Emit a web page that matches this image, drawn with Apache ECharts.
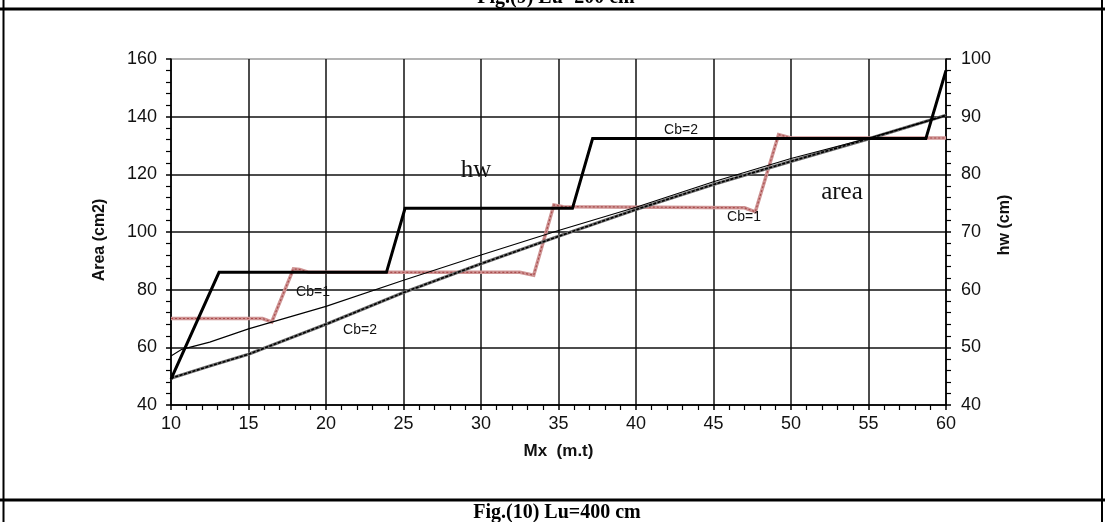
<!DOCTYPE html>
<html>
<head>
<meta charset="utf-8">
<script src="https://cdn.jsdelivr.net/npm/echarts@6/dist/echarts.min.js"></script>
<style>
html,body{margin:0;padding:0;background:#fff;}
#chart{width:1105px;height:522px;}
</style>
</head>
<body>
<div id="chart"></div>
<script>
// ---- data ----
const xTicks = [10, 15, 20, 25, 30, 35, 40, 45, 50, 55, 60];
const areaTicks = [40, 60, 80, 100, 120, 140, 160];
const hwTicks = [40, 50, 60, 70, 80, 90, 100];

// hw, Cb=2 (thick black, right axis)
const hwCb2X = [10, 13.1, 23.9, 25.1, 35.9, 37.2, 58.7, 60];
const hwCb2Y = [44.5, 63.0, 63.0, 74.1, 74.1, 86.2, 86.2, 98];

// hw, Cb=1 (red hatched, right axis)
const hwCb1X = [10, 15.9, 16.5, 17.9, 18.3, 18.9, 32.5, 33.4, 34.7, 35.3, 47.0, 47.7, 49.2, 50.0, 60];
const hwCb1Y = [55, 55, 54.4, 63.6, 63.5, 63.0, 63.0, 62.5, 74.7, 74.4, 74.2, 73.5, 86.9, 86.3, 86.3];

// area, Cb=1 (thin black, left axis)
const areaCb1X = [10, 10.7, 12.5, 15, 20, 25, 30, 35, 40, 45, 50, 55, 60];
const areaCb1Y = [57, 59.3, 61.8, 66.4, 74.2, 83.3, 92, 100.5, 108.6, 117.4, 125.5, 132.5, 140.3];

// area, Cb=2 (grey hatched, left axis)
const areaCb2X = [10, 12.5, 15, 20, 25, 30, 35, 40, 45, 50, 55, 60];
const areaCb2Y = [49.3, 53.5, 57.6, 68, 79, 89, 98.5, 107.8, 116.5, 124.5, 132.3, 140.5];

const zip = (xs, ys) => xs.map((x, i) => [x, ys[i]]);

const SANS = 'Liberation Sans, Arial, sans-serif';
const SERIF = 'Liberation Serif, Times New Roman, serif';

const chart = echarts.init(document.getElementById('chart'), null, {renderer: 'canvas'});

const baseLine = (name, data, yIdx, color, width, type, z) => ({
  name, type: 'line', data, yAxisIndex: yIdx, showSymbol: false, symbol: 'none',
  animation: false, z: z,
  lineStyle: {color, width, type: type || 'solid', cap: 'butt', join: 'miter'}
});

const splitColors = areaTicks.map((t, i) => i === areaTicks.length - 1 ? '#9a9a9a' : '#111');
const xMin = xTicks[0], xMax = xTicks[xTicks.length - 1];
const aMin = areaTicks[0], aMax = areaTicks[areaTicks.length - 1];
const hMin = hwTicks[0], hMax = hwTicks[hwTicks.length - 1];

// ticks-only helper axes (outward major ticks)
const tickOnly = (extra) => Object.assign({
  type: 'value',
  axisLine: {show: false},
  axisTick: {show: true, inside: false, length: 5, lineStyle: {color: '#000', width: 1.5}},
  minorTick: {show: false},
  axisLabel: {show: false},
  splitLine: {show: false}
}, extra);

chart.setOption({
  animation: false,
  backgroundColor: '#fff',
  grid: {left: 171, right: 159, top: 59, bottom: 117, containLabel: false},
  xAxis: [
    {
      type: 'value', min: xMin, max: xMax, interval: 5, position: 'bottom',
      axisLine: {onZero: false, lineStyle: {color: '#000', width: 1.5}},
      axisTick: {show: false},
      minorTick: {show: true, splitNumber: 5, length: 5, lineStyle: {color: '#000', width: 1.2}},
      axisLabel: {color: '#111', fontFamily: SANS, fontSize: 18, margin: 10},
      splitLine: {show: true, lineStyle: {color: '#111', width: 1.5}},
      name: 'Mx  (m.t)', nameLocation: 'middle', nameGap: 38,
      nameTextStyle: {color: '#111', fontFamily: SANS, fontSize: 17, fontWeight: 'bold'}
    },
    tickOnly({min: xMin, max: xMax, interval: 5, position: 'bottom', axisLine: {show: false, onZero: false}})
  ],
  yAxis: [
    {
      type: 'value', position: 'left', min: aMin, max: aMax, interval: 20,
      axisLine: {show: true, onZero: false, lineStyle: {color: '#000', width: 1.5}},
      axisTick: {show: false},
      minorTick: {show: true, splitNumber: 5, length: 5, lineStyle: {color: '#000', width: 1.2}},
      axisLabel: {color: '#111', fontFamily: SANS, fontSize: 18, margin: 14},
      splitLine: {show: true, lineStyle: {color: splitColors, width: 1.5}}
    },
    {
      type: 'value', position: 'right', min: hMin, max: hMax, interval: 10,
      axisLine: {show: true, onZero: false, lineStyle: {color: '#000', width: 1.5}},
      axisTick: {show: false},
      minorTick: {show: true, splitNumber: 5, length: 5, lineStyle: {color: '#000', width: 1.2}},
      axisLabel: {color: '#111', fontFamily: SANS, fontSize: 18, margin: 15},
      splitLine: {show: false}
    },
    tickOnly({position: 'left', min: aMin, max: aMax, interval: 20, axisLine: {show: false, onZero: false}}),
    tickOnly({position: 'right', min: hMin, max: hMax, interval: 10, axisLine: {show: false, onZero: false}})
  ],
  series: [
    baseLine('hw Cb=1', zip(hwCb1X, hwCb1Y), 1, '#cf9494', 3.5, 'solid', 2),
    baseLine('hw Cb=1 hatch', zip(hwCb1X, hwCb1Y), 1, '#a84c4c', 1.2, [2, 2], 3),
    baseLine('area Cb=2', zip(areaCb2X, areaCb2Y), 0, '#6f6f6f', 3.2, 'solid', 4),
    baseLine('area Cb=2 hatch', zip(areaCb2X, areaCb2Y), 0, '#000', 1.6, [3, 1.5], 5),
    baseLine('area Cb=1', zip(areaCb1X, areaCb1Y), 0, '#000', 1.1, 'solid', 6),
    baseLine('hw Cb=2', zip(hwCb2X, hwCb2Y), 1, '#000', 3, 'solid', 7)
  ],
  graphic: [
    {type: 'line', shape: {x1: 0, y1: 9, x2: 1105, y2: 9}, style: {stroke: '#000', lineWidth: 3}, z: 100},
    {type: 'line', shape: {x1: 0, y1: 500, x2: 1105, y2: 500}, style: {stroke: '#000', lineWidth: 3}, z: 100},
    {type: 'line', shape: {x1: 3.5, y1: 0, x2: 3.5, y2: 522}, style: {stroke: '#000', lineWidth: 2}, z: 100},
    {type: 'line', shape: {x1: 1102, y1: 0, x2: 1102, y2: 522}, style: {stroke: '#000', lineWidth: 2}, z: 100},
    {type: 'text', x: 556, y: -2, z: 100, style: {text: 'Fig.(9) Lu=200 cm', font: 'bold 20px ' + SERIF, fill: '#000', align: 'center', verticalAlign: 'middle'}},
    {type: 'text', x: 557, y: 513, z: 100, style: {text: 'Fig.(10) Lu=400 cm', font: 'bold 20px ' + SERIF, fill: '#000', align: 'center', verticalAlign: 'middle'}},
    {type: 'text', x: 100, y: 240, rotation: Math.PI / 2, z: 100, style: {text: 'Area (cm2)', font: 'bold 16px ' + SANS, fill: '#111', align: 'center', verticalAlign: 'middle'}},
    {type: 'text', x: 1005, y: 225, rotation: Math.PI / 2, z: 100, style: {text: 'hw (cm)', font: 'bold 16px ' + SANS, fill: '#111', align: 'center', verticalAlign: 'middle'}},
    {type: 'text', x: 476, y: 170, z: 100, style: {text: 'hw', font: '25px ' + SERIF, fill: '#111', align: 'center', verticalAlign: 'middle'}},
    {type: 'text', x: 842, y: 192, z: 100, style: {text: 'area', font: '25px ' + SERIF, fill: '#111', align: 'center', verticalAlign: 'middle'}},
    {type: 'text', x: 681, y: 130, z: 100, style: {text: 'Cb=2', font: '14px ' + SANS, fill: '#111', align: 'center', verticalAlign: 'middle'}},
    {type: 'text', x: 744, y: 217, z: 100, style: {text: 'Cb=1', font: '14px ' + SANS, fill: '#111', align: 'center', verticalAlign: 'middle'}},
    {type: 'text', x: 313, y: 292, z: 100, style: {text: 'Cb=1', font: '14px ' + SANS, fill: '#111', align: 'center', verticalAlign: 'middle'}},
    {type: 'text', x: 360, y: 330, z: 100, style: {text: 'Cb=2', font: '14px ' + SANS, fill: '#111', align: 'center', verticalAlign: 'middle'}}
  ]
});
</script>
</body>
</html>
